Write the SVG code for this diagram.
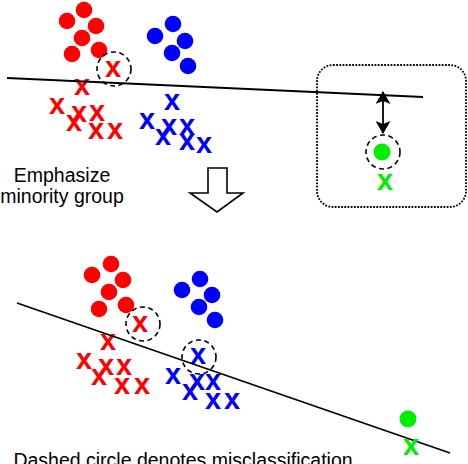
<svg xmlns="http://www.w3.org/2000/svg" width="468" height="464" viewBox="0 0 468 464">
<style>
.r{fill:#ff0000}
.b{fill:#0000ff}
.g{fill:#00ee00}
.xr,.xb,.xg{font-family:"Liberation Sans",Arial,sans-serif;font-weight:bold;font-size:29px;text-anchor:middle}
.xr{fill:#ff0000}
.xb{fill:#0000ff}
.xg{fill:#00ee00}
.dc{fill:none;stroke:#000;stroke-width:1.6;stroke-dasharray:5 3.5}
.ln{stroke:#000;stroke-width:1.8;fill:none}
.lbl{font-family:"Liberation Sans",Arial,sans-serif;font-size:19.5px;fill:#000;text-anchor:middle}
</style>
<defs>
<marker id="ah" viewBox="0 0 13 15" refX="12" refY="7.5" markerWidth="13" markerHeight="15" orient="auto-start-reverse" markerUnits="userSpaceOnUse">
<path d="M0,0 L13,7.5 L0,15 L3,7.5 z" fill="#000"/>
</marker>
</defs>
<rect width="468" height="464" fill="#fff"/>

<g id="top-panel">
<g id="top-red-circles" class="r">
<circle cx="67" cy="21" r="8.3"/><circle cx="84" cy="10" r="8.3"/><circle cx="96" cy="26" r="8.3"/>
<circle cx="82" cy="38" r="8.3"/><circle cx="72" cy="54" r="8.3"/><circle cx="99" cy="50" r="8.3"/>
</g>
<g id="top-blue-circles" class="b">
<circle cx="155" cy="36" r="8.3"/><circle cx="173" cy="24" r="8.3"/><circle cx="185" cy="41" r="8.3"/>
<circle cx="172" cy="53" r="8.3"/><circle cx="188" cy="66" r="8.3"/>
</g>
<g id="top-red-x">
<text class="xr" x="113" y="77">x</text>
<text class="xr" x="82" y="95">x</text>
<text class="xr" x="57" y="114">x</text>
<text class="xr" x="79" y="122">x</text>
<text class="xr" x="97" y="121">x</text>
<text class="xr" x="74" y="131">x</text>
<text class="xr" x="96" y="139">x</text>
<text class="xr" x="115" y="139">x</text>
</g>
<g id="top-blue-x">
<text class="xb" x="172" y="110">x</text>
<text class="xb" x="147" y="129">x</text>
<text class="xb" x="169" y="135">x</text>
<text class="xb" x="187" y="135">x</text>
<text class="xb" x="163" y="145">x</text>
<text class="xb" x="187" y="150">x</text>
<text class="xb" x="204" y="153">x</text>
</g>
<circle id="top-miss" class="dc" cx="114" cy="69" r="17"/>
<line id="top-boundary" class="ln" x1="7" y1="78" x2="423" y2="97"/>
</g>

<g id="zoom-box">
<rect x="317" y="65" width="149" height="142" rx="16" fill="none" stroke="#000" stroke-width="1.8" stroke-dasharray="1.8 1.4"/>
<line x1="383" y1="92" x2="383" y2="133" stroke="#000" stroke-width="1.8" marker-start="url(#ah)" marker-end="url(#ah)"/>
<circle class="dc" cx="383" cy="152" r="17"/>
<circle class="g" cx="382" cy="152" r="8.5"/>
<text class="xg" x="385" y="190">x</text>
</g>

<g id="label-emphasize">
<text class="lbl" x="62" y="182">Emphasize</text>
<text class="lbl" x="62" y="203">minority group</text>
</g>

<g id="down-arrow">
<polygon points="208,168 227,168 227,193 243,193 217,212 190,193 208,193" fill="#fff" stroke="#000" stroke-width="1.6" stroke-linejoin="miter"/>
</g>

<g id="bottom-panel">
<g id="bot-red-circles" class="r">
<circle cx="92" cy="275" r="8.3"/><circle cx="111" cy="264" r="8.3"/><circle cx="123" cy="280" r="8.3"/>
<circle cx="109" cy="292" r="8.3"/><circle cx="99" cy="309" r="8.3"/><circle cx="126" cy="305" r="8.3"/>
</g>
<g id="bot-blue-circles" class="b">
<circle cx="182" cy="290" r="8.3"/><circle cx="200" cy="279" r="8.3"/><circle cx="212" cy="295" r="8.3"/>
<circle cx="199" cy="307" r="8.3"/><circle cx="215" cy="320" r="8.3"/>
</g>
<g id="bot-red-x">
<text class="xr" x="140" y="332">x</text>
<text class="xr" x="108" y="350">x</text>
<text class="xr" x="84" y="369">x</text>
<text class="xr" x="106" y="375">x</text>
<text class="xr" x="124" y="375">x</text>
<text class="xr" x="99" y="385">x</text>
<text class="xr" x="122" y="394">x</text>
<text class="xr" x="142" y="394">x</text>
</g>
<g id="bot-blue-x">
<text class="xb" x="198" y="364">x</text>
<text class="xb" x="173" y="384">x</text>
<text class="xb" x="197" y="390">x</text>
<text class="xb" x="213" y="390">x</text>
<text class="xb" x="190" y="400">x</text>
<text class="xb" x="213" y="409">x</text>
<text class="xb" x="232" y="409">x</text>
</g>
<circle class="dc" cx="143" cy="324" r="17"/>
<circle class="dc" cx="199" cy="357" r="17"/>
<line id="bot-boundary" class="ln" x1="17" y1="303" x2="450" y2="453"/>
<circle class="g" cx="408" cy="419" r="8.5"/>
<text class="xg" x="411" y="455">x</text>
</g>

<g id="caption">
<text class="lbl" x="183" y="467">Dashed circle denotes misclassification</text>
</g>
</svg>
